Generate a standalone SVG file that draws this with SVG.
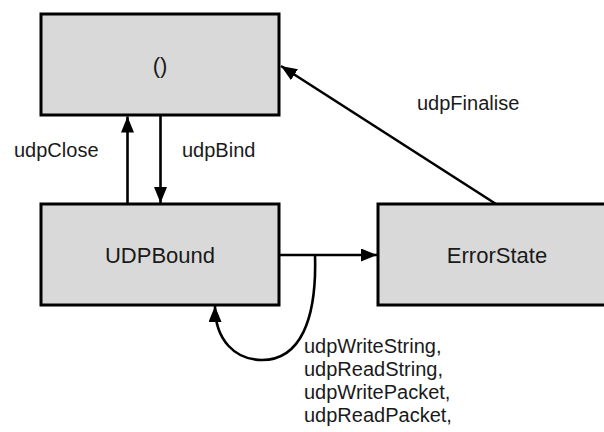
<svg xmlns="http://www.w3.org/2000/svg" width="604" height="432" viewBox="0 0 604 432">
  <style>
    .node rect { fill: #d9d9d9; stroke: #000; stroke-width: 3; }
    .node text { font-family: "Liberation Sans", Arial, sans-serif; font-size: 22px; fill: #1a1a1a; text-anchor: middle; }
    .edge { fill: none; stroke: #000; stroke-width: 2.6; marker-end: url(#head); }
    .label { font-family: "Liberation Sans", Arial, sans-serif; font-size: 20px; fill: #1a1a1a; }
  </style>
  <defs>
    <marker id="head" markerUnits="userSpaceOnUse" markerWidth="17" markerHeight="14" refX="16" refY="6.5" orient="auto">
      <path d="M0,0 L16,6.5 L0,13 Z" fill="#000"/>
    </marker>
  </defs>
  <rect width="604" height="432" fill="#fff"/>

  <g id="node-unit" class="node">
    <rect x="41" y="14" width="238" height="101"/>
    <text x="160" y="73">()</text>
  </g>
  <g id="node-udpbound" class="node">
    <rect x="41" y="204" width="238" height="101"/>
    <text x="160" y="263">UDPBound</text>
  </g>
  <g id="node-errorstate" class="node">
    <rect x="378" y="204" width="238" height="101"/>
    <text x="497" y="263">ErrorState</text>
  </g>

  <g id="connectors">
    <path class="edge" d="M127.5,204 L127.5,116.5"/>
    <path class="edge" d="M160.5,115 L160.5,203"/>
    <path class="edge" d="M279,255 L377,255"/>
    <path class="edge" d="M496,204 L281,66"/>
    <path class="edge" d="M315,255 C317,320 300,360 262,360 C235,360 215,340 215,306"/>
  </g>

  <g id="labels">
    <text class="label" x="14" y="157">udpClose</text>
    <text class="label" x="182" y="157">udpBind</text>
    <text class="label" x="417" y="110">udpFinalise</text>
    <text class="label" x="304" y="353">udpWriteString,</text>
    <text class="label" x="304" y="376">udpReadString,</text>
    <text class="label" x="304" y="399">udpWritePacket,</text>
    <text class="label" x="304" y="422">udpReadPacket,</text>
  </g>
</svg>
